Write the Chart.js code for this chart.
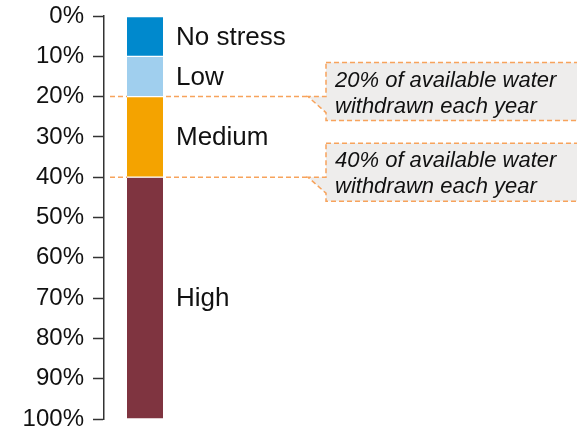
<!DOCTYPE html>
<html>
<head>
<meta charset="utf-8">
<script src="https://cdn.jsdelivr.net/npm/chart.js@4/dist/chart.umd.min.js"></script>
<style>
  html, body { margin: 0; padding: 0; background: #fff; }
  #wrap { width: 577px; height: 432px; }
</style>
</head>
<body>
<div id="wrap"><canvas id="stressChart"></canvas></div>
<script>
// data
const categories = ['Water stress']
const levels = ['No stress', 'Low', 'Medium', 'High']
const shares = [10, 10, 20, 60]
const thresholds = [20, 40]
const calloutText = [
    ['20% of available water', 'withdrawn each year'],
    ['40% of available water', 'withdrawn each year']
]

const colours = ['#0089cd', '#a0cfee', '#f4a300', '#7f3440']
const fontFamily = '"Liberation Sans", Arial, sans-serif'
const orange = '#f7a35c'

// level names to the right of each segment
const levelLabels = {
    id: 'levelLabels',
    afterDatasetsDraw(chart) {
        const ctx = chart.ctx
        ctx.save()
        ctx.font = `26px ${fontFamily}`
        ctx.fillStyle = '#111'
        ctx.textAlign = 'left'
        ctx.textBaseline = 'middle'
        chart.data.datasets.forEach((ds, i) => {
            const bar = chart.getDatasetMeta(i).data[0]
            const y = (bar.y + bar.base) / 2
            ctx.fillText(ds.label, bar.x + bar.width / 2 + 13, y + 1)
        })
        ctx.restore()
    }
}

// dashed threshold lines and the callout boxes
const callouts = {
    id: 'callouts',
    beforeDatasetsDraw(chart) {
        const ctx = chart.ctx
        const yScale = chart.scales.y
        const area = chart.chartArea
        const tipX = area.right + 122
        ctx.save()
        ctx.strokeStyle = orange
        ctx.lineWidth = 1.5
        ctx.setLineDash([5, 3])
        thresholds.forEach(t => {
            const y = yScale.getPixelForValue(t)
            ctx.beginPath()
            ctx.moveTo(area.left + 6, y)
            ctx.lineTo(tipX, y)
            ctx.stroke()
        })
        ctx.restore()
    },
    afterDraw(chart) {
        const ctx = chart.ctx
        const yScale = chart.scales.y
        const area = chart.chartArea
        const tipX = area.right + 122
        const left = tipX + 18
        const right = chart.width + 5
        ctx.save()
        thresholds.forEach((t, i) => {
            const y = yScale.getPixelForValue(t)
            const top = y - 34
            const bottom = y + 24
            ctx.beginPath()
            ctx.moveTo(left, top)
            ctx.lineTo(right, top)
            ctx.lineTo(right, bottom)
            ctx.lineTo(left, bottom)
            ctx.lineTo(left, y + 16)
            ctx.lineTo(tipX, y)
            ctx.lineTo(left, y)
            ctx.closePath()
            ctx.fillStyle = '#eeedec'
            ctx.fill()
            ctx.strokeStyle = orange
            ctx.lineWidth = 1.5
            ctx.setLineDash([5, 3])
            ctx.stroke()

            ctx.setLineDash([])
            ctx.fillStyle = '#111'
            ctx.font = `italic 22px ${fontFamily}`
            ctx.textAlign = 'left'
            ctx.textBaseline = 'alphabetic'
            ctx.fillText(calloutText[i][0], left + 9, y - 10)
            ctx.fillText(calloutText[i][1], left + 9, y + 16)
        })
        ctx.restore()
    }
}

const datasets = levels.map((name, i) => ({
    label: name,
    data: [shares[i]],
    backgroundColor: colours[i],
    borderColor: '#ffffff',
    borderWidth: { top: 1, bottom: 1, left: 0, right: 0 },
    borderSkipped: false,
    barThickness: 36
}))

new Chart(document.getElementById('stressChart'), {
    type: 'bar',
    data: {
        labels: categories,
        datasets: datasets
    },
    options: {
        responsive: true,
        maintainAspectRatio: false,
        animation: false,
        layout: {
            padding: { left: 22, right: 391, top: 16, bottom: 13 }
        },
        plugins: {
            legend: { display: false },
            tooltip: { enabled: false }
        },
        scales: {
            x: {
                display: false,
                stacked: true
            },
            y: {
                stacked: true,
                reverse: true,
                min: 0,
                max: 100,
                ticks: {
                    stepSize: 10,
                    padding: 9,
                    color: '#111',
                    font: { family: fontFamily, size: 24, lineHeight: 0.3 },
                    callback: v => v + '%'
                },
                grid: {
                    drawOnChartArea: false,
                    drawTicks: true,
                    tickLength: 11,
                    tickColor: '#333',
                    tickWidth: 1.5
                },
                border: {
                    display: true,
                    color: '#333',
                    width: 1.5
                }
            }
        }
    },
    plugins: [levelLabels, callouts]
})
</script>
</body>
</html>
